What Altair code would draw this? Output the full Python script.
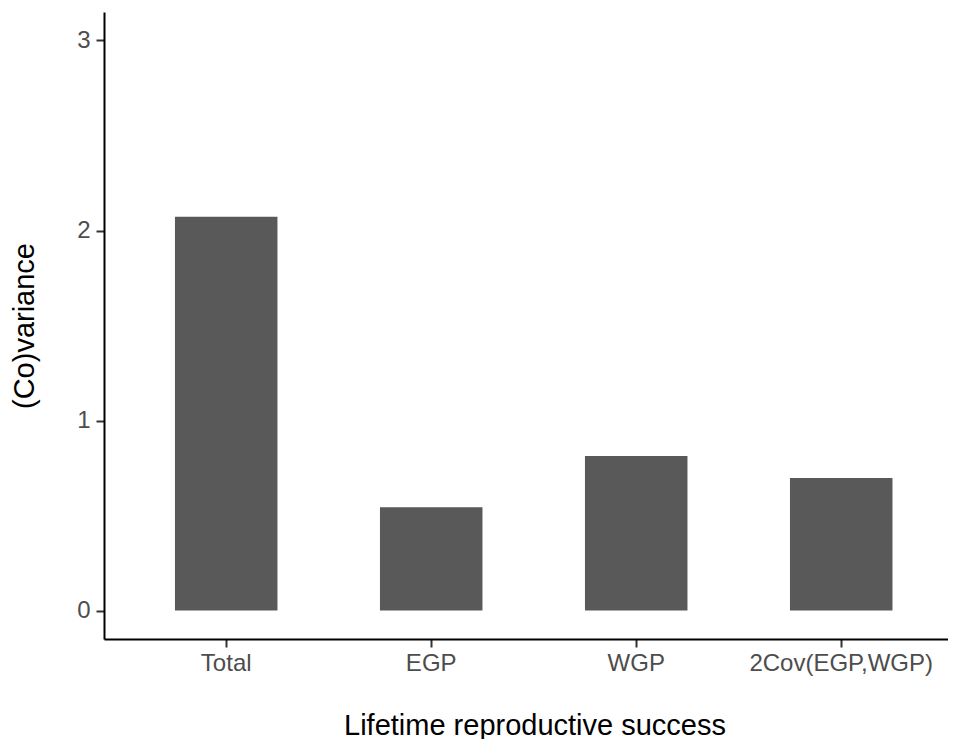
import altair as alt
import pandas as pd

categories = ["Total", "EGP", "WGP", "2Cov(EGP,WGP)"]
values = [2.073, 0.544, 0.813, 0.697]

df = pd.DataFrame({"component": categories, "value": values})

FONT = "Liberation Sans"

chart = alt.Chart(df).mark_bar(color="#595959").encode(
    x=alt.X(
        "component:N",
        sort=categories,
        scale=alt.Scale(paddingInner=0.5, paddingOuter=0.3085, align=0.561),
        axis=alt.Axis(
            title="Lifetime reproductive success",
            labelAngle=0,
            labelFontSize=24,
            labelColor="#4D4D4D",
            labelFont=FONT,
            labelPadding=4,
            labelLimit=0,
            labelOverlap=False,
            tickSize=8,
            tickWidth=2,
            tickColor="#333333",
            domainColor="#000000",
            domainWidth=2,
            bandPosition=0.5,
            titleFont=FONT,
            titleFontSize=29,
            titleFontWeight="normal",
            titleColor="#000000",
            titleX=430.5,
            titleY=95,
            titleBaseline="alphabetic",
            titleAlign="center",
            grid=False,
        ),
    ),
    y=alt.Y(
        "value:Q",
        scale=alt.Scale(domain=[-0.15, 3.15], nice=False, zero=False),
        axis=alt.Axis(
            title="(Co)variance",
            values=[0, 1, 2, 3],
            format="d",
            labelFontSize=24,
            labelColor="#4D4D4D",
            labelFont=FONT,
            labelPadding=6,
            tickSize=8,
            tickWidth=2,
            tickColor="#333333",
            domainColor="#000000",
            domainWidth=2,
            titleFont=FONT,
            titleFontSize=29,
            titleFontWeight="normal",
            titleColor="#000000",
            titleAngle=-90,
            titleX=-71,
            titleY=313.5,
            titleBaseline="alphabetic",
            titleAlign="center",
            grid=False,
        ),
    ),
    y2=alt.Y2(datum=0),
).properties(
    width=844,
    height=627,
    autosize=alt.AutoSizeParams(type="none"),
    padding={"left": 96, "top": 4, "right": 0, "bottom": 100},
    background="white",
).configure_view(stroke=None)

chart.save("out.html", embed_options={"renderer": "svg", "actions": False})
